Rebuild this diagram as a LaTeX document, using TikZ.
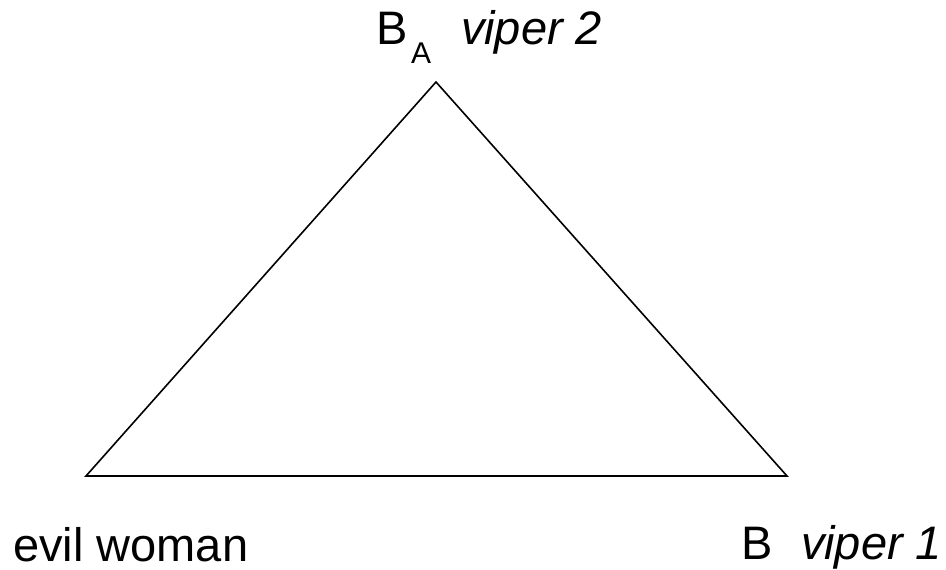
\documentclass[tikz,border=0pt]{standalone}
\usepackage{fontspec}
\setmainfont{Liberation Sans}
\usepackage{tikz}
\usetikzlibrary{positioning}
\tikzset{
  vertexlbl/.style={inner sep=0pt, anchor=base west, font=\fontsize{47}{56}\selectfont},
  edge/.style={line width=1.6pt, line join=miter}
}
\newcommand{\sublbl}[1]{{\fontsize{30}{36}\selectfont\raisebox{-18pt}{#1}}}

\begin{document}
\begin{tikzpicture}[x=1pt,y=-1pt]
  \useasboundingbox (0,0) rectangle (946,570);
  \coordinate (top) at (436,82);
  \coordinate (left) at (86,476);
  \coordinate (right) at (787,476);
  \node[vertexlbl] (woman) at (13,561) {evil woman};
  \node[vertexlbl] (viper1) at (741.5,559) {B\hspace{28pt}\textit{viper 1}};
  \node[vertexlbl] (viper2) at (376.5,45) {B\hspace{3pt}\sublbl{A}\hspace{30pt}\textit{viper 2}};
  \draw[edge] (left) -- (top) -- (right) -- cycle;
\end{tikzpicture}
\end{document}
